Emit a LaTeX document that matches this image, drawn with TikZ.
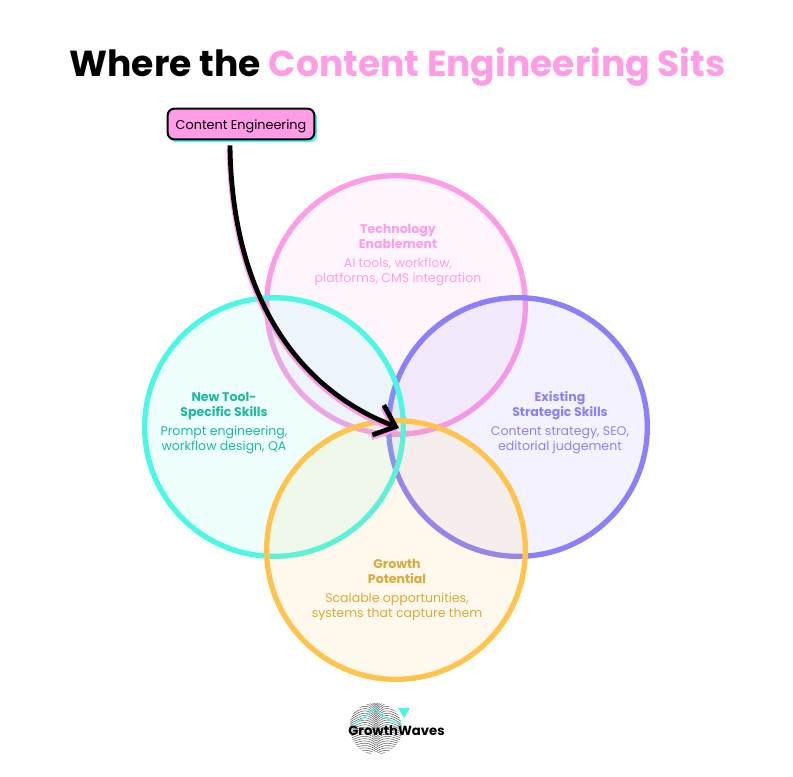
\documentclass[tikz,border=0pt]{standalone}
\usepackage{fontspec}
\setmainfont{Poppins}
\usepackage{xcolor}
\definecolor{wavePink}{HTML}{FF9CE6}
\definecolor{waveTeal}{HTML}{4DF7E6}
\definecolor{wavePurple}{HTML}{8C80FA}
\definecolor{waveGold}{HTML}{FFC44D}
\definecolor{textTeal}{HTML}{1FB89E}
\definecolor{textGold}{HTML}{DBA83A}
\usetikzlibrary{calc,arrows.meta}
\tikzset{
  ring/.style={circle, draw=#1, fill=#1, fill opacity=0.1, draw opacity=1, line width=4pt, minimum size=194pt, inner sep=0pt},
  blurb/.style={align=center, text=#1, font=\fontsize{9.4}{11.3}\selectfont},
  tag/.style={draw=black, fill=wavePink, line width=1.5pt, rounded corners=5pt, minimum width=110pt, minimum height=23pt, inner sep=0pt, text height=10.3pt, text depth=2.4pt, font=\fontsize{9.6}{11}\selectfont},
  swoop/.style={line width=3.6pt, -{Straight Barb[length=14pt,width=24pt,line width=3.6pt]}},
}
\begin{document}
\begin{tikzpicture}[x=0.75pt,y=-0.75pt]
  \useasboundingbox (0,0) rectangle (793,776);
  % ---- rings ----
  \node[ring=wavePink] (tech) at (396,305) {};
  \node[ring=wavePurple] (existing) at (518,427) {};
  \node[ring=waveTeal] (newtool) at (274,427) {};
  \node[ring=waveGold] (growth) at (396,550) {};
  % ---- title ----
  \node (title) at (397.5,66.5) {\fontsize{27.1}{32}\selectfont\bfseries Where the \textcolor{wavePink}{Content Engineering Sits}};
  % ---- ring texts ----
  \node[blurb=wavePink] (techtext) at (398,255) {\textbf{Technology}\\\textbf{Enablement}\\[3pt]AI tools, workflow,\\platforms, CMS integration};
  \node[blurb=textTeal] (newtext) at (224,423) {\textbf{New Tool-}\\\textbf{Specific Skills}\\[3pt]Prompt engineering,\\workflow design, QA};
  \node[blurb=wavePurple] (existtext) at (560,423) {\textbf{Existing}\\\textbf{Strategic Skills}\\[3pt]Content strategy, SEO,\\editorial judgement};
  \node[blurb=textGold] (growthtext) at (397,590) {\textbf{Growth}\\\textbf{Potential}\\[3pt]Scalable opportunities,\\systems that capture them};
  % ---- tag and arrow ----
  \fill[waveTeal, rounded corners=5pt] (169,111) rectangle (317,142);
  \node[tag] (ce) at (241,124) {Content Engineering};
  \coordinate (tip) at (399,428);
  \coordinate (tail) at ($(ce.south)+(-11,5)$);
  \draw[swoop, wavePink] ($(tail)+(-1,3)$) .. controls (232,303) and (298,392) .. ($(tip)+(-1,3)$);
  \draw[swoop, black] (tail) .. controls (232,300) and (300,390) .. (tip);
  % ---- logo ----
  \begin{scope}
    \clip (350,729) .. controls (348,712) and (362,703) .. (376,703) .. controls (392,703) and (403,716) .. (402,731) .. controls (401,744) and (390,753) .. (379,754) .. controls (376,750) and (373,750) .. (370,754) .. controls (358,750) and (351,742) .. (350,729) -- cycle;
    \foreach \k in {0,...,26} {
      \draw[black!60, line width=0.42pt] (345,{758-1.9*\k}) .. controls (358,{756-2.3*\k}) and (366,{752-2.5*\k}) .. (376,{758-2.1*\k}) .. controls (386,{752-2.5*\k}) and (394,{756-2.3*\k}) .. (408,{758-1.9*\k});
    }
  \end{scope}
  \draw[waveTeal, line width=0.9pt] (351,725) .. controls (360,722) and (368,714) .. (375,708) .. controls (381,716) and (390,722) .. (402,724);
  \fill[waveTeal] (398,708) -- (410,708) -- (404,718) -- cycle;
  \node (logo) at (396.5,731) {\fontsize{9.9}{12}\selectfont\bfseries GrowthWaves};
\end{tikzpicture}
\end{document}
